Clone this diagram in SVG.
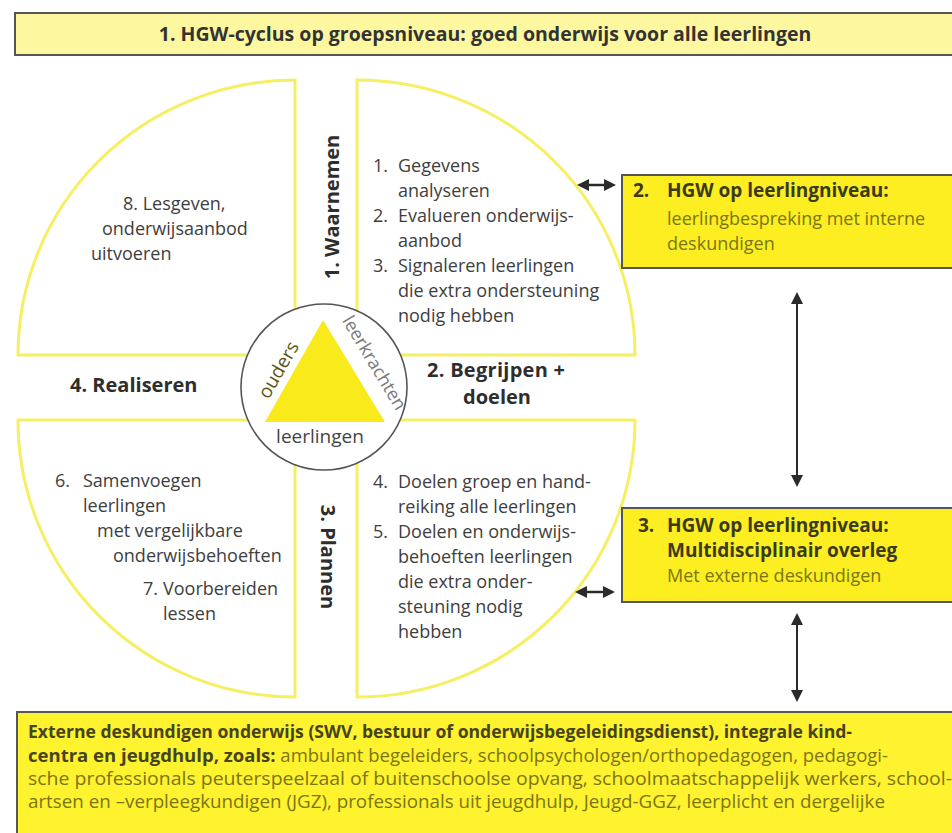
<svg xmlns="http://www.w3.org/2000/svg" width="952" height="833" viewBox="0 0 952 833">
<style>
  .q { fill: #ffffff; stroke: #f6ef62; stroke-width: 3; }
  .t { font-family: "Open Sans", "Noto Sans", sans-serif; font-size: 18px; fill: #3e3e3e; }
  .b { font-family: "Open Sans", "Noto Sans", sans-serif; font-size: 20px; font-weight: bold; fill: #2e2e2e; }
  .bx { fill: #fcee21; stroke: #555; stroke-width: 2; }
  .bt { font-family: "Open Sans", "Noto Sans", sans-serif; font-size: 19px; font-weight: bold; fill: #3a3a1e; }
  .ol { font-family: "Open Sans", "Noto Sans", sans-serif; font-size: 18px; fill: #7a7618; }
  .ex { font-family: "Open Sans", "Noto Sans", sans-serif; font-size: 18px; }
  .ar { stroke: #2a2a2a; fill: none; }
</style>
<defs>
  <marker id="ah" viewBox="0 0 10 10" refX="3" refY="5" markerWidth="12" markerHeight="12" markerUnits="userSpaceOnUse" orient="auto-start-reverse">
    <path d="M0,0 L10,5 L0,10 Z" fill="#2a2a2a"/>
  </marker>
</defs>

<g id="banner">
  <rect x="15" y="13" width="945" height="42" fill="#fdf8a0" stroke="#555" stroke-width="2"/>
  <text x="485" y="41" text-anchor="middle" font-family="Open Sans, Noto Sans, sans-serif" font-size="19.5" font-weight="bold" fill="#333">1.  HGW-cyclus op groepsniveau: goed onderwijs voor alle leerlingen</text>
</g>

<g id="quadrant-tl">
  <path class="q" d="M295,80 V355 H18 A277,275 0 0 1 295,80 Z"/>
  <text class="t" x="123" y="210">8.  Lesgeven,</text>
  <text class="t" x="102" y="235">onderwijsaanbod</text>
  <text class="t" x="91" y="260">uitvoeren</text>
</g>

<g id="quadrant-tr">
  <path class="q" d="M357,80 V355 H635 A278,275 0 0 0 357,80 Z"/>
  <text class="t" x="373" y="172">1.</text><text class="t" x="398" y="172">Gegevens</text>
  <text class="t" x="398" y="197">analyseren</text>
  <text class="t" x="373" y="222">2.</text><text class="t" x="398" y="222">Evalueren onderwijs-</text>
  <text class="t" x="398" y="247">aanbod</text>
  <text class="t" x="373" y="272">3.</text><text class="t" x="398" y="272">Signaleren leerlingen</text>
  <text class="t" x="398" y="297">die extra ondersteuning</text>
  <text class="t" x="398" y="322">nodig hebben</text>
</g>

<g id="quadrant-bl">
  <path class="q" d="M18,420 H295 V697 A277,277 0 0 1 18,420 Z"/>
  <text class="t" x="55" y="487">6.</text><text class="t" x="83" y="487">Samenvoegen</text>
  <text class="t" x="83" y="512">leerlingen</text>
  <text class="t" x="97" y="537">met vergelijkbare</text>
  <text class="t" x="113" y="562">onderwijsbehoeften</text>
  <text class="t" x="143" y="595">7.</text><text class="t" x="163" y="595">Voorbereiden</text>
  <text class="t" x="163" y="620">lessen</text>
</g>

<g id="quadrant-br">
  <path class="q" d="M357,420 H635 A278,277 0 0 1 357,697 Z"/>
  <text class="t" x="373" y="488">4.</text><text class="t" x="398" y="488">Doelen groep en hand-</text>
  <text class="t" x="398" y="513">reiking alle leerlingen</text>
  <text class="t" x="373" y="538">5.</text><text class="t" x="398" y="538">Doelen en onderwijs-</text>
  <text class="t" x="398" y="563">behoeften  leerlingen</text>
  <text class="t" x="398" y="588">die extra onder-</text>
  <text class="t" x="398" y="613">steuning nodig</text>
  <text class="t" x="398" y="638">hebben</text>
</g>

<g id="phase-labels">
  <text class="b" transform="translate(339,207) rotate(-90)" text-anchor="middle">1.  Waarnemen</text>
  <text class="b" x="427" y="377" textLength="138" lengthAdjust="spacing">2.  Begrijpen +</text>
  <text class="b" x="497" y="404" text-anchor="middle">doelen</text>
  <text class="b" transform="translate(321,557) rotate(90)" text-anchor="middle">3.  Plannen</text>
  <text class="b" x="70" y="392">4.  Realiseren</text>
</g>

<g id="center">
  <circle cx="324" cy="387" r="83" fill="#ffffff" stroke="#555" stroke-width="1.6"/>
  <path d="M323,320 L385,422 L265,422 Z" fill="#f9ea1c"/>
  <text transform="translate(284,373) rotate(-60)" text-anchor="middle" font-family="Open Sans, Noto Sans, sans-serif" font-size="19" fill="#5a5612">ouders</text>
  <text transform="translate(369,366) rotate(59)" text-anchor="middle" font-family="Open Sans, Noto Sans, sans-serif" font-size="18" fill="#7a7a7a">leerkrachten</text>
  <text x="320" y="443" text-anchor="middle" font-family="Open Sans, Noto Sans, sans-serif" font-size="19" fill="#444">leerlingen</text>
</g>

<g id="box-2">
  <rect class="bx" x="622" y="175" width="340" height="93"/>
  <text class="bt" x="633" y="197">2.</text><text class="bt" x="667" y="197">HGW op leerlingniveau:</text>
  <text class="ol" x="667" y="225">leerlingbespreking met interne</text>
  <text class="ol" x="667" y="250">deskundigen</text>
</g>

<g id="box-3">
  <rect class="bx" x="622" y="508" width="340" height="94"/>
  <text class="bt" x="638" y="532">3.</text><text class="bt" x="667" y="532">HGW op leerlingniveau:</text>
  <text class="bt" x="667" y="557">Multidisciplinair overleg</text>
  <text class="ol" x="667" y="582">Met externe deskundigen</text>
</g>

<g id="box-extern">
  <rect x="17" y="712" width="945" height="130" fill="#fff22e" stroke="#555" stroke-width="2"/>
  <text class="ex" x="28" y="738" textLength="824" lengthAdjust="spacingAndGlyphs" font-weight="bold" fill="#45441e">Externe deskundigen onderwijs (SWV, bestuur of onderwijsbegeleidingsdienst), integrale kind-</text>
  <text class="ex" x="28" y="762" textLength="860" lengthAdjust="spacingAndGlyphs"><tspan font-weight="bold" fill="#45441e">centra en jeugdhulp, zoals:</tspan><tspan fill="#7a7618"> ambulant begeleiders, schoolpsychologen/orthopedagogen, pedagogi-</tspan></text>
  <text class="ex" x="28" y="785" textLength="924" lengthAdjust="spacingAndGlyphs" fill="#7a7618">sche professionals peuterspeelzaal of buitenschoolse opvang,  schoolmaatschappelijk werkers, school-</text>
  <text class="ex" x="28" y="808" textLength="857" lengthAdjust="spacingAndGlyphs" fill="#7a7618">artsen en –verpleegkundigen (JGZ), professionals uit jeugdhulp, Jeugd-GGZ, leerplicht en dergelijke</text>
</g>

<g id="connectors">
  <line class="ar" x1="585.4" y1="185" x2="607.6" y2="185" stroke-width="2.5" marker-start="url(#ah)" marker-end="url(#ah)"/>
  <line class="ar" x1="583.4" y1="592" x2="606.6" y2="592" stroke-width="2.5" marker-start="url(#ah)" marker-end="url(#ah)"/>
  <line class="ar" x1="797" y1="300.4" x2="797" y2="478.6" stroke-width="2" marker-start="url(#ah)" marker-end="url(#ah)"/>
  <line class="ar" x1="797" y1="621.4" x2="797" y2="693.6" stroke-width="2" marker-start="url(#ah)" marker-end="url(#ah)"/>
</g>
</svg>
